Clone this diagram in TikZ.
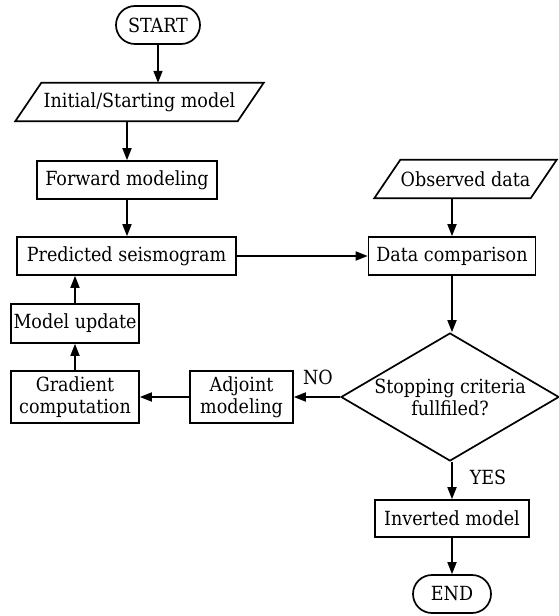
\documentclass[tikz,border=0pt]{standalone}
\usepackage{fontspec}
\setmainfont{DejaVu Serif Condensed}
\usetikzlibrary{shapes.geometric,arrows.meta}
\begin{document}
\begin{tikzpicture}[x=1pt,y=-1pt,
  every node/.style={font=\fontsize{19.5}{22}\selectfont},
  box/.style={draw,line width=1.7pt,rectangle,minimum height=38pt,inner sep=0pt},
  term/.style={draw,line width=1.7pt,rectangle,rounded corners=19pt,minimum height=38pt,inner sep=0pt},
  io/.style={rectangle,minimum height=38pt,inner sep=0pt},
  dec/.style={draw,line width=1.7pt,diamond,aspect=1.7,minimum width=218pt,minimum height=128pt,inner sep=0pt},
  lbl/.style={inner sep=0pt},
  arr/.style={line width=1.7pt,-{Triangle[length=12pt,width=9pt]}}]
\useasboundingbox (0,0) rectangle (559,616);
\node[term,minimum width=84pt] (start) at (158,25) {START};
\node[io,minimum width=222pt] (init) at (139.5,102) {Initial/Starting model};
\draw[line width=1.7pt] ([xshift=13pt]init.north west) -- ([xshift=13pt]init.north east) -- ([xshift=-13pt]init.south east) -- ([xshift=-13pt]init.south west) -- cycle;
\node[box,minimum width=180pt] (fwd) at (127,180) {Forward modeling};
\node[box,minimum width=219pt] (pred) at (126.5,256) {Predicted seismogram};
\node[box,minimum width=128pt,minimum height=39pt] (upd) at (75,323.5) {Model update};
\node[box,minimum width=128pt,minimum height=52pt,align=center] (grad) at (75,397) {Gradient\\computation};
\node[box,minimum width=103pt,minimum height=52pt,align=center] (adj) at (241.5,397) {Adjoint\\modeling};
\node[io,minimum width=156pt] (obs) at (465.5,179) {Observed data};
\draw[line width=1.7pt] ([xshift=13pt]obs.north west) -- ([xshift=13pt]obs.north east) -- ([xshift=-13pt]obs.south east) -- ([xshift=-13pt]obs.south west) -- cycle;
\node[box,minimum width=167pt] (cmp) at (452,256) {Data comparison};
\node[dec,align=center] (stop) at (450,397) {Stopping criteria\\fullfiled?};
\node[box,minimum width=154pt,minimum height=37pt] (inv) at (452,518.5) {Inverted model};
\node[term,minimum width=78pt] (end) at (452,594) {END};
\node[lbl] (no) at (318,377) {NO};
\node[lbl] (yes) at (488,477) {YES};
\draw[arr] (start.south) -- (start.south |- init.north);
\draw[arr] (fwd.north |- init.south) -- (fwd.north);
\draw[arr] (fwd.south) -- (fwd.south |- pred.north);
\draw[arr] (pred.east) -- (cmp.west);
\draw[arr] (cmp.north |- obs.south) -- (cmp.north);
\draw[arr] (cmp.south) -- (cmp.south |- stop.north);
\draw[arr] (stop.west) -- (adj.east);
\draw[arr] (adj.west) -- (grad.east);
\draw[arr] (grad.north) -- (upd.south);
\draw[arr] (upd.north) -- (upd.north |- pred.south);
\draw[arr] (stop.south -| inv.north) -- (inv.north);
\draw[arr] (inv.south) -- (end.north);
\end{tikzpicture}
\end{document}
